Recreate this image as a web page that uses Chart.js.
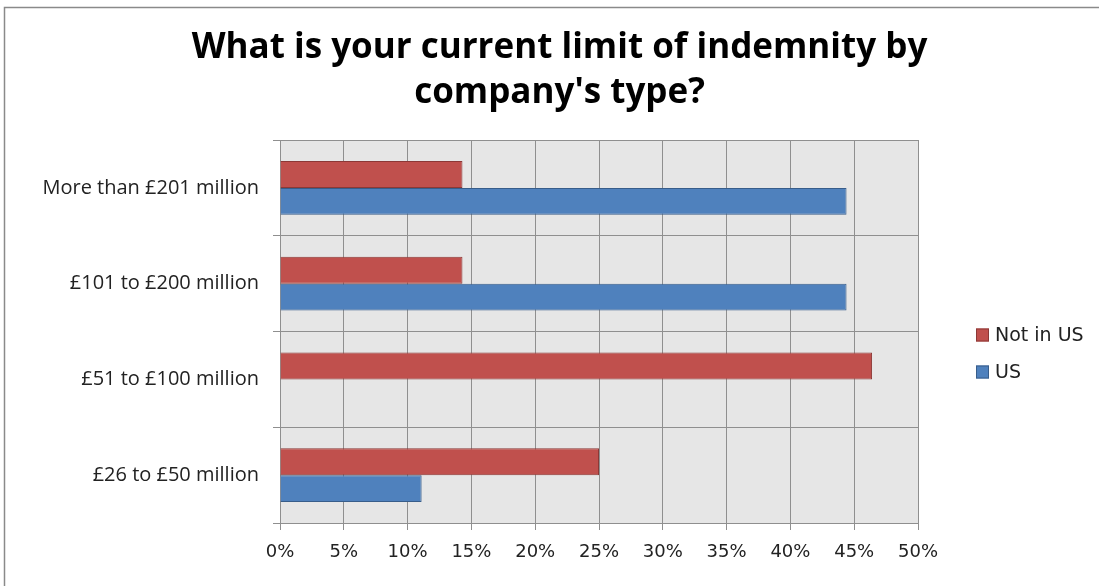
<!DOCTYPE html>
<html>
<head>
<meta charset="utf-8">
<script src="https://cdn.jsdelivr.net/npm/chart.js@4/dist/chart.umd.min.js"></script>
<style>
  html, body { margin: 0; padding: 0; background: #fff; }
  #wrap { width: 1099px; height: 586px; }
</style>
</head>
<body>
<div id="wrap"><canvas id="limitChart" width="1099" height="586"></canvas></div>
<script>
const categories = ['More than £201 million', '£101 to £200 million', '£51 to £100 million', '£26 to £50 million'];
const notInUs = [14.3, 14.3, 46.4, 25.0];
const us = [44.4, 44.4, 0, 11.1];
const seriesNames = ['Not in US', 'US'];

const gridGray = '#8f8f8f';

// grey plot background plus the thin outer frame
const backdrop = {
    id: 'backdrop',
    beforeDraw(chart) {
        const { ctx, chartArea: a } = chart;
        ctx.save();
        ctx.fillStyle = '#e6e6e6';
        ctx.fillRect(a.left, a.top, a.right - a.left, a.bottom - a.top);
        ctx.strokeStyle = '#8a8a8a';
        ctx.lineWidth = 1.5;
        ctx.strokeRect(4.5, 7.5, 1200, 700);
        ctx.restore();
    }
};

// simple legend on the right, squares with a darker edge
const sideLegend = {
    id: 'sideLegend',
    afterDraw(chart) {
        const { ctx } = chart;
        ctx.save();
        ctx.font = '19px "DejaVu Sans"';
        ctx.textBaseline = 'middle';
        chart.data.datasets.forEach((ds, i) => {
            const y = 335 + i * 37;
            ctx.fillStyle = ds.backgroundColor;
            ctx.fillRect(976, y - 6.5, 13, 13);
            ctx.strokeStyle = ds.borderColor;
            ctx.lineWidth = 1;
            ctx.strokeRect(976.5, y - 6, 12, 12);
            ctx.fillStyle = '#222';
            ctx.fillText(ds.label, 995, y + 1);
        });
        ctx.restore();
    }
};

new Chart(document.getElementById('limitChart'), {
    type: 'bar',
    data: {
        labels: categories,
        datasets: [{
            label: seriesNames[0],
            data: notInUs,
            backgroundColor: '#c0504d',
            borderColor: '#8c3836',
            borderWidth: 1,
            categoryPercentage: 0.56,
            barPercentage: 1.0
        }, {
            label: seriesNames[1],
            data: us,
            backgroundColor: '#4f81bd',
            borderColor: '#385d8a',
            borderWidth: 1,
            categoryPercentage: 0.56,
            barPercentage: 1.0
        }]
    },
    options: {
        indexAxis: 'y',
        responsive: false,
        animation: false,
        layout: { padding: { top: 8, right: 0, left: 20, bottom: 0 } },
        plugins: {
            legend: { display: false },
            tooltip: { enabled: false },
            title: {
                display: true,
                text: ['What is your current limit of indemnity by', "company's type?"],
                color: '#000',
                font: { family: 'Open Sans', size: 35, weight: 'bold', lineHeight: 45 / 35 },
                padding: { top: 18, bottom: 24 }
            }
        },
        scales: {
            x: {
                min: 0,
                max: 50,
                ticks: {
                    stepSize: 5,
                    color: '#222',
                    padding: 12,
                    font: { family: 'DejaVu Sans', size: 18 },
                    callback: v => v + '%'
                },
                grid: { color: gridGray, tickLength: 7, tickColor: gridGray },
                border: { color: gridGray },
                afterFit(scale) { scale.height = 63; }
            },
            y: {
                ticks: {
                    color: '#222',
                    padding: 14,
                    font: { family: 'Open Sans', size: 20 }
                },
                grid: { color: gridGray, tickLength: 7, tickColor: gridGray, offset: true },
                border: { color: gridGray },
                afterFit(scale) { scale.width = 260; }
            },
            // empty box on the right that keeps room for the legend
            legendSpace: {
                type: 'category',
                position: 'right',
                grid: { display: false },
                ticks: { display: false },
                border: { display: false },
                afterFit(scale) { scale.width = 181; }
            }
        }
    },
    plugins: [backdrop, sideLegend]
});
</script>
</body>
</html>
